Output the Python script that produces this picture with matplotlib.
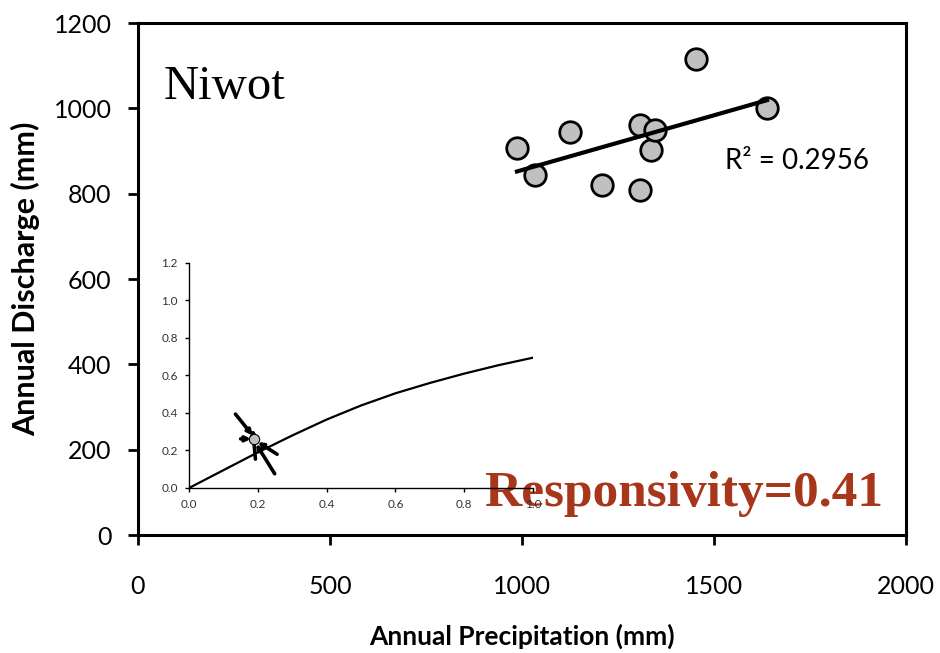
import matplotlib.pyplot as plt
import numpy as np

# ----- DATA -----
precip = [987, 1034, 1125, 1208, 1307, 1307, 1336, 1346, 1453, 1638]
discharge = [908, 844, 945, 821, 961, 809, 903, 950, 1116, 1001]
r2_label = "R² = 0.2956"
site = "Niwot"
resp_label = "Responsivity=0.41"

# inset curve
curve_x = [0.0, 0.1, 0.2, 0.3, 0.4, 0.5, 0.6, 0.7, 0.8, 0.9, 1.0]
curve_y = [0.0, 0.095, 0.19, 0.28, 0.365, 0.44, 0.505, 0.56, 0.61, 0.655, 0.695]
point_x = [0.19]
point_y = [0.262]
# arrow segments: start (x, y) -> end (x, y)
arrow_start_x = [0.135, 0.150, 0.193, 0.256, 0.249]
arrow_start_y = [0.394, 0.262, 0.154, 0.180, 0.076]
arrow_end_x = [0.185, 0.180, 0.185, 0.200, 0.195]
arrow_end_y = [0.280, 0.262, 0.315, 0.245, 0.235]

sans = ['Lato', 'DejaVu Sans']
serif = ['Liberation Serif', 'DejaVu Serif']

fig = plt.figure(figsize=(9.4, 6.53), dpi=100)

# ----- MAIN -----
ax = fig.add_axes([0.1468, 0.1807, 0.817, 0.784])
ax.scatter(precip, discharge, s=240, facecolor='#C0C0C0', edgecolor='black', linewidth=2, zorder=3)

slope, inter = np.polyfit(precip, discharge, 1)
xs = np.array([min(precip), max(precip)])
ax.plot(xs, slope * xs + inter, color='black', lw=3, zorder=4)

ax.set_xlim(0, 2000)
ax.set_ylim(0, 1200)
ax.set_xticks([0, 500, 1000, 1500, 2000])
ax.set_yticks([0, 200, 400, 600, 800, 1000, 1200])
for s in ax.spines.values():
    s.set_linewidth(2.2)
ax.tick_params(direction='out', length=7, width=2, labelsize=18)
ax.tick_params(axis='x', pad=22)
ax.tick_params(axis='y', pad=12)
for lab in ax.get_xticklabels() + ax.get_yticklabels():
    lab.set_family(sans)
ax.set_xlabel("Annual Precipitation (mm)", fontsize=19, fontweight='bold', family=sans, labelpad=18)
ax.set_ylabel("Annual Discharge (mm)", fontsize=22, fontweight='bold', family=sans, labelpad=10)

ax.text(0.033, 0.875, site, transform=ax.transAxes, fontsize=35, family=serif, va='center')
ax.text(0.765, 0.73, r2_label, transform=ax.transAxes, fontsize=20, family=sans, va='center')
ax.text(0.970, 0.08, resp_label, transform=ax.transAxes, fontsize=37, family=serif,
        fontweight='bold', color='#A8361A', ha='right', va='center', zorder=10)

# ----- INSET -----
ins = fig.add_axes([0.2011, 0.2527, 0.366, 0.3446])
ins.patch.set_alpha(0)
ins.plot(curve_x, curve_y, color='black', lw=1.6)
for i in range(len(arrow_start_x)):
    ins.annotate('', xy=(arrow_end_x[i], arrow_end_y[i]),
                 xytext=(arrow_start_x[i], arrow_start_y[i]),
                 arrowprops=dict(arrowstyle='->', lw=2.6, color='black',
                                 mutation_scale=7, shrinkA=0, shrinkB=0))
ins.scatter(point_x, point_y, s=55, facecolor='#C0C0C0', edgecolor='black', linewidth=0.8, zorder=5)
ins.set_xlim(0, 1.0)
ins.set_ylim(0, 1.2)
ins.set_xticks([0, 0.2, 0.4, 0.6, 0.8, 1.0])
ins.set_yticks([0, 0.2, 0.4, 0.6, 0.8, 1.0, 1.2])
ins.xaxis.set_major_formatter(plt.FormatStrFormatter('%.1f'))
ins.yaxis.set_major_formatter(plt.FormatStrFormatter('%.1f'))
ins.spines['top'].set_visible(False)
ins.spines['right'].set_visible(False)
for s in ['left', 'bottom']:
    ins.spines[s].set_linewidth(1)
ins.tick_params(direction='out', length=3, width=1, labelsize=8.5, labelcolor='#333333', pad=5)
for lab in ins.get_xticklabels() + ins.get_yticklabels():
    lab.set_family(sans)

fig.savefig('out.png', dpi=100)
